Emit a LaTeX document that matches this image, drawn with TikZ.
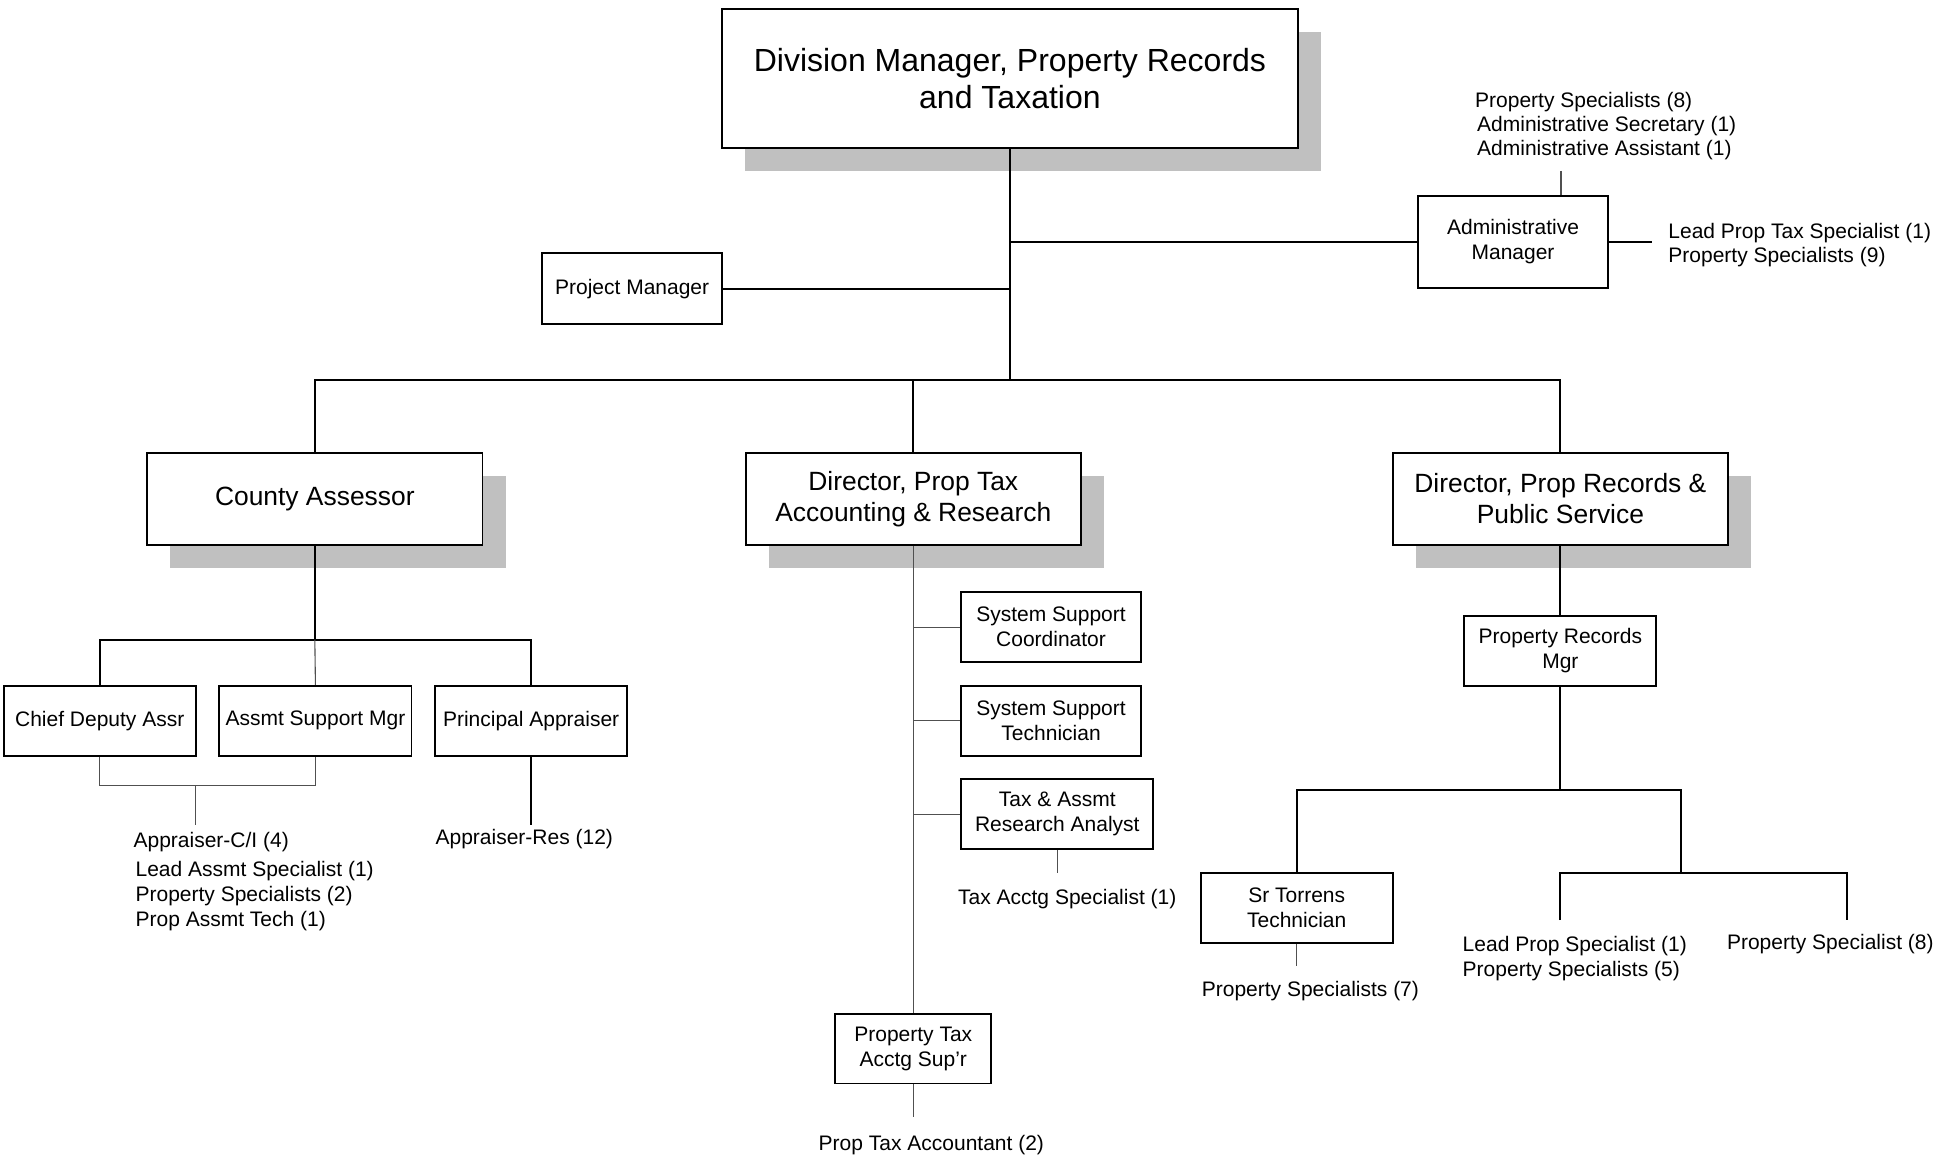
\documentclass[tikz,border=0pt]{standalone}
\usepackage{fontspec}
\setmainfont{Liberation Sans}
\usetikzlibrary{shadows}
\definecolor{shade}{HTML}{C0C0C0}
\definecolor{thinc}{HTML}{505050}
\newcommand{\smallsz}{\fontsize{21}{24.8}\selectfont}
\newcommand{\midsz}{\fontsize{26.4}{31}\selectfont}
\newcommand{\bigsz}{\fontsize{32}{37.5}\selectfont}

\begin{document}
\begin{tikzpicture}[x=1.2468pt, y=-1.2468pt,
  box/.style 2 args={draw, line width=1.9pt, fill=white, inner sep=0pt, align=center,
    minimum width={#1*1.2468pt}, minimum height={#2*1.2468pt}, font=\smallsz},
  shaded/.style={drop shadow={shadow xshift=23pt, shadow yshift=-23pt, fill=shade, opacity=1}},
  lbl/.style={inner sep=0pt, align=left, font=\smallsz},
  main/.style={line width=2pt},
  minor/.style={line width=1.1pt, draw=thinc}]

\useasboundingbox (0,0) rectangle (1568,930);

% ---- boxes ----
\node[box={462}{112}, shaded, font=\bigsz] (top) at (810,63) {Division Manager, Property Records\\and Taxation};
\node[box={153}{74}] (admin) at (1213.5,194) {Administrative\\Manager};
\node[box={144}{57}] (pm) at (507,231.5) {Project Manager};

\node[box={269}{74}, shaded, font=\midsz] (ca) at (252.5,400) {County Assessor};
\node[box={269}{74}, shaded, font=\midsz] (dpt) at (732.5,400) {Director, Prop Tax\\Accounting \& Research};
\node[box={269}{74}, shaded, font=\midsz] (dpr) at (1251.5,400) {Director, Prop Records \&\\Public Service};

\node[box={154}{56}] (cd) at (80,578) {Chief Deputy Assr};
\node[box={154}{56}] (asm) at (253,578) {Assmt Support Mgr};
\node[box={154}{56}] (pa) at (426,578) {Principal Appraiser};

\node[box={144}{56}] (ssc) at (843,503) {System Support\\Coordinator};
\node[box={144}{56}] (sst) at (843,578) {System Support\\Technician};
\node[box={154}{56}] (tar) at (848,653) {Tax \& Assmt\\Research Analyst};
\node[box={125}{56}] (ptas) at (732.5,841) {Property Tax\\Acctg Sup'r};

\node[box={154}{56}] (prm) at (1251.5,522) {Property Records\\Mgr};
\node[box={154}{56}] (st) at (1040,728) {Sr Torrens\\Technician};

% ---- staff labels ----
\node[lbl, anchor=west, font=\fontsize{21}{24.3}\selectfont] (admTop) at (1183,101)
  {Property Specialists (8)\\\hspace*{2pt}Administrative Secretary (1)\\\hspace*{2pt}Administrative Assistant (1)};
\node[lbl, anchor=west] (admRight) at (1338,196.5) {Lead Prop Tax Specialist (1)\\Property Specialists (9)};
\node[lbl, anchor=west] (ci) at (107,707)
  {Appraiser-C/I (4)\\[3.8pt]\hspace*{2pt}Lead Assmt Specialist (1)\\\hspace*{2pt}Property Specialists (2)\\\hspace*{2pt}Prop Assmt Tech (1)};
\node[lbl] (res) at (420.5,673) {Appraiser-Res (12)};
\node[lbl] (tas) at (856,721) {Tax Acctg Specialist (1)};
\node[lbl] (pta) at (747,918) {Prop Tax Accountant (2)};
\node[lbl] (ps7) at (1051,795) {Property Specialists (7)};
\node[lbl, anchor=west] (lps) at (1173,768.5) {Lead Prop Specialist (1)\\Property Specialists (5)};
\node[lbl] (ps8) at (1468,757) {Property Specialist (8)};

% ---- junctions and free ends ----
\coordinate (bus) at (810,305);
\coordinate (adminT) at (1252,137);
\coordinate (adminR) at (1325,194);
\coordinate (caJ) at (252.5,513);
\coordinate (bk) at (157,630);
\coordinate (ciT) at (157,662);
\coordinate (resT) at (426,662);
\coordinate (tasT) at (848,700);
\coordinate (ptaT) at (732.5,896);
\coordinate (rJ) at (1251.5,634);
\coordinate (subJ) at (1348,700);
\coordinate (stT) at (1040,775);
\coordinate (lpsT) at (1251.5,738);
\coordinate (ps8T) at (1481,738);

% ---- upper level ----
\draw[main] (top.south) -- (bus);
\draw[main] (admin.west) -- (admin.west -| bus);
\draw[main] (pm.east) -- (pm.east -| bus);
\draw[main] (ca.north) -- (ca.north |- bus) -- (dpr.north |- bus) -- (dpr.north);
\draw[main] (dpt.north) -- (dpt.north |- bus);
\draw[main] (admin.east) -- (adminR);
\draw[minor] (adminT) -- (adminT |- admin.north);

% ---- assessor branch ----
\draw[main] (ca.south) -- (caJ);
\draw[main] (cd.north) -- (cd.north |- caJ) -- (pa.north |- caJ) -- (pa.north);
\draw[minor] (caJ) -- (asm.north);
\draw[minor] (cd.south) |- (bk) -| (asm.south);
\draw[minor] (bk) -- (ciT);
\draw[main] (pa.south) -- (resT);

% ---- accounting branch ----
\draw[minor] (dpt.south) -- (ptas.north);
\draw[minor] (ssc.west -| dpt.south) -- (ssc.west);
\draw[minor] (sst.west -| dpt.south) -- (sst.west);
\draw[minor] (tar.west -| dpt.south) -- (tar.west);
\draw[minor] (tar.south -| tasT) -- (tasT);
\draw[minor] (ptas.south) -- (ptaT);

% ---- records branch ----
\draw[main] (dpr.south) -- (prm.north);
\draw[main] (prm.south) -- (rJ);
\draw[main] (st.north) -- (st.north |- rJ) -- (subJ |- rJ) -- (subJ);
\draw[main] (lpsT) -- (lpsT |- subJ) -- (ps8T |- subJ) -- (ps8T);
\draw[minor] (st.south) -- (stT);
\end{tikzpicture}
\end{document}
